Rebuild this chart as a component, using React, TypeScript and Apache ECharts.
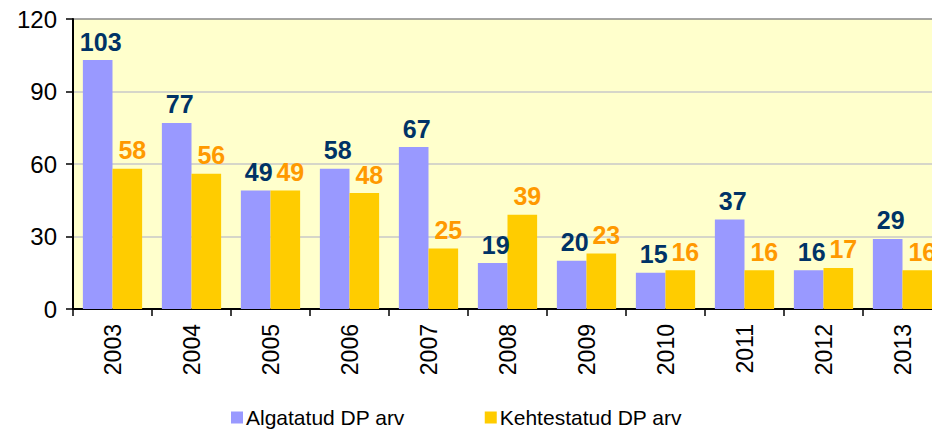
import React, { useEffect, useRef } from "react";
import * as echarts from "echarts";

const categories = ["2003", "2004", "2005", "2006", "2007", "2008", "2009", "2010", "2011", "2012", "2013"];
const algatatud = [103, 77, 49, 58, 67, 19, 20, 15, 37, 16, 29];
const kehtestatud = [58, 56, 49, 48, 25, 39, 23, 16, 16, 17, 16];
const seriesNames = ["Algatatud DP arv", "Kehtestatud DP arv"];
const yTicks = { min: 0, max: 120, interval: 30 };

const FONT = 'Arial, "Liberation Sans", sans-serif';

export default function App() {
  const ref = useRef<HTMLDivElement>(null);
  useEffect(() => {
    if (!ref.current) return;
    const chart = echarts.init(ref.current, undefined, { renderer: "svg" });
    chart.setOption({
      animation: false,
      backgroundColor: "#ffffff",
      grid: {
        left: 73,
        top: 19,
        bottom: 128,
        right: 0,
        show: true,
        backgroundColor: "#FFFFCC",
        borderWidth: 0,
      },
      legend: {
        bottom: 4,
        left: 226,
        itemWidth: 12,
        itemHeight: 12,
        itemGap: 80,
        icon: "rect",
        textStyle: { fontFamily: FONT, fontSize: 21, color: "#000", padding: [0, 0, 0, -2] },
        data: seriesNames,
      },
      xAxis: {
        type: "category",
        data: categories,
        axisLine: { lineStyle: { color: "#000", width: 2 } },
        axisTick: { show: true, length: 7, inside: false, lineStyle: { color: "#000", width: 1.5 } },
        axisLabel: { rotate: 90, margin: 15, fontFamily: FONT, fontSize: 23, color: "#000" },
        splitLine: { show: false },
      },
      yAxis: {
        type: "value",
        min: yTicks.min,
        max: yTicks.max,
        interval: yTicks.interval,
        axisLine: { show: true, lineStyle: { color: "#000", width: 2 } },
        axisTick: { show: true, length: 7, lineStyle: { color: "#000", width: 1.5 } },
        axisLabel: { margin: 16, fontFamily: FONT, fontSize: 24, color: "#000" },
        splitLine: {
          show: true,
          lineStyle: { color: ["#C8C8C8", "#C8C8C8", "#C8C8C8", "#C8C8C8", "#888888"], width: 1.5 },
        },
      },
      series: [
        {
          name: seriesNames[0],
          type: "bar",
          data: algatatud,
          barGap: "0%",
          barCategoryGap: "25%",
          itemStyle: { color: "#9999FF" },
          label: {
            show: true,
            position: "top",
            distance: 6,
            offset: [3, 0],
            fontFamily: FONT,
            fontSize: 25,
            fontWeight: "bold",
            color: "#003366",
          },
        },
        {
          name: seriesNames[1],
          type: "bar",
          data: kehtestatud,
          barGap: "0%",
          barCategoryGap: "25%",
          itemStyle: { color: "#FFCC00" },
          label: {
            show: true,
            position: "top",
            distance: 6,
            offset: [5, 0],
            fontFamily: FONT,
            fontSize: 25,
            fontWeight: "bold",
            color: "#FF9900",
          },
        },
      ],
    });
    return () => chart.dispose();
  }, []);
  return (
    <div style={{ position: "fixed", left: 0, top: 0, width: 932, height: 437, overflow: "hidden" }}>
      <div ref={ref} style={{ position: "absolute", left: 0, top: 0, width: 942, height: 437 }} />
    </div>
  );
}
